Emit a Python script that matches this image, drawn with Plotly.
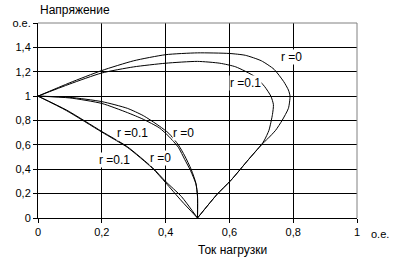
import plotly.graph_objects as go

# Capacitive load (upper curves)
cap_r0_x = [0, 0.1, 0.2, 0.3, 0.4, 0.5, 0.6, 0.65, 0.7, 0.74, 0.77, 0.785, 0.79, 0.785, 0.765, 0.745, 0.72, 0.70, 0.66, 0.605, 0.56, 0.5]
cap_r0_y = [1, 1.11, 1.21, 1.29, 1.34, 1.355, 1.35, 1.335, 1.29, 1.22, 1.12, 1.05, 1.0, 0.9, 0.8, 0.72, 0.65, 0.6, 0.48, 0.31, 0.19, 0]
cap_r1_x = [0, 0.1, 0.2, 0.3, 0.4, 0.5, 0.57, 0.62, 0.68, 0.71, 0.73, 0.738, 0.735, 0.724, 0.71, 0.70, 0.66, 0.605, 0.56, 0.5]
cap_r1_y = [1, 1.10, 1.19, 1.24, 1.27, 1.285, 1.27, 1.24, 1.16, 1.08, 1.0, 0.93, 0.85, 0.72, 0.64, 0.6, 0.48, 0.31, 0.19, 0]

# Resistive load (middle curves)
res_r0_x = [0, 0.1, 0.2, 0.28, 0.33, 0.38, 0.41, 0.44, 0.46, 0.48, 0.495, 0.5, 0.5]
res_r0_y = [1, 0.99, 0.955, 0.9, 0.84, 0.755, 0.695, 0.6, 0.51, 0.4, 0.285, 0.18, 0]
res_r1_x = [0, 0.1, 0.2, 0.28, 0.33, 0.38, 0.41, 0.44, 0.46, 0.478, 0.495, 0.5, 0.5]
res_r1_y = [1, 0.985, 0.94, 0.865, 0.81, 0.74, 0.67, 0.58, 0.48, 0.39, 0.28, 0.18, 0]

# Inductive load (lower curves)
ind_r0_x = [0, 0.09, 0.2, 0.28, 0.36, 0.40, 0.45, 0.5]
ind_r0_y = [1, 0.885, 0.71, 0.585, 0.41, 0.30, 0.175, 0]
ind_r1_x = [0, 0.09, 0.2, 0.28, 0.36, 0.40, 0.45, 0.5]
ind_r1_y = [1, 0.88, 0.705, 0.58, 0.405, 0.29, 0.14, 0]

x_ticks = [0, 0.2, 0.4, 0.6, 0.8, 1]
x_tick_text = ["0", "0,2", "0,4", "0,6", "0,8", "1"]
y_ticks = [0, 0.2, 0.4, 0.6, 0.8, 1, 1.2, 1.4, 1.6]
y_tick_text = ["0", "0,2", "0,4", "0,6", "0,8", "1", "1,2", "1,4", "о.е."]

labels = [
    ("r =0", 0.795, 1.317),
    ("r =0.1", 0.649, 1.107),
    ("r =0.1", 0.295, 0.697),
    ("r =0", 0.455, 0.697),
    ("r =0.1", 0.241, 0.476),
    ("r =0", 0.385, 0.492),
]

FONT = "Liberation Sans, Arial, sans-serif"

fig = go.Figure()
for xs, ys in [(cap_r0_x, cap_r0_y), (cap_r1_x, cap_r1_y),
               (res_r0_x, res_r0_y), (res_r1_x, res_r1_y),
               (ind_r0_x, ind_r0_y), (ind_r1_x, ind_r1_y)]:
    fig.add_trace(go.Scatter(x=xs, y=ys, mode="lines", line=dict(color="black", width=1, shape="spline", smoothing=0.6),
                             showlegend=False, hoverinfo="skip"))

for txt, lx, ly in labels:
    fig.add_annotation(x=lx, y=ly, text=txt, showarrow=False, font=dict(family=FONT, size=12, color="black"),
                       xanchor="center", yanchor="middle", bgcolor="white", borderpad=0)

fig.add_annotation(xref="paper", yref="paper", x=0, y=1, yshift=13, text="Напряжение", showarrow=False,
                   xanchor="left", yanchor="middle", font=dict(family=FONT, size=12, color="black"))
fig.add_annotation(xref="paper", yref="paper", x=0.609, y=0, yshift=-32, text="Ток нагрузки", showarrow=False,
                   xanchor="center", yanchor="middle", font=dict(family=FONT, size=12, color="black"))
fig.add_annotation(xref="paper", yref="paper", x=1, y=0, xshift=12, yshift=-16, text="о.е.", showarrow=False,
                   xanchor="left", yanchor="middle", font=dict(family=FONT, size=11, color="black"))

# gray frame on top and right
fig.add_shape(type="line", xref="paper", yref="paper", x0=0, x1=1, y0=1, y1=1, line=dict(color="#808080", width=1), layer="above")
fig.add_shape(type="line", xref="paper", yref="paper", x0=1, x1=1, y0=0, y1=1, line=dict(color="#808080", width=1), layer="above")

fig.update_layout(
    width=399, height=260,
    margin=dict(l=34, r=42, t=23, b=42),
    paper_bgcolor="white", plot_bgcolor="white",
    font=dict(family=FONT, size=11, color="black"),
    xaxis=dict(range=[0, 1], tickvals=x_ticks, ticktext=x_tick_text, showgrid=True, gridcolor="black", gridwidth=1,
               showline=True, linecolor="black", linewidth=1, ticks="outside", ticklen=4, tickcolor="black",
               zeroline=False, fixedrange=True),
    yaxis=dict(range=[0, 1.6], tickvals=y_ticks, ticktext=y_tick_text, showgrid=True, gridcolor="black", gridwidth=1,
               showline=True, linecolor="black", linewidth=1, ticks="outside", ticklen=4, tickcolor="black",
               zeroline=False, fixedrange=True),
)

fig.write_html("out.html", config={"displayModeBar": False})
